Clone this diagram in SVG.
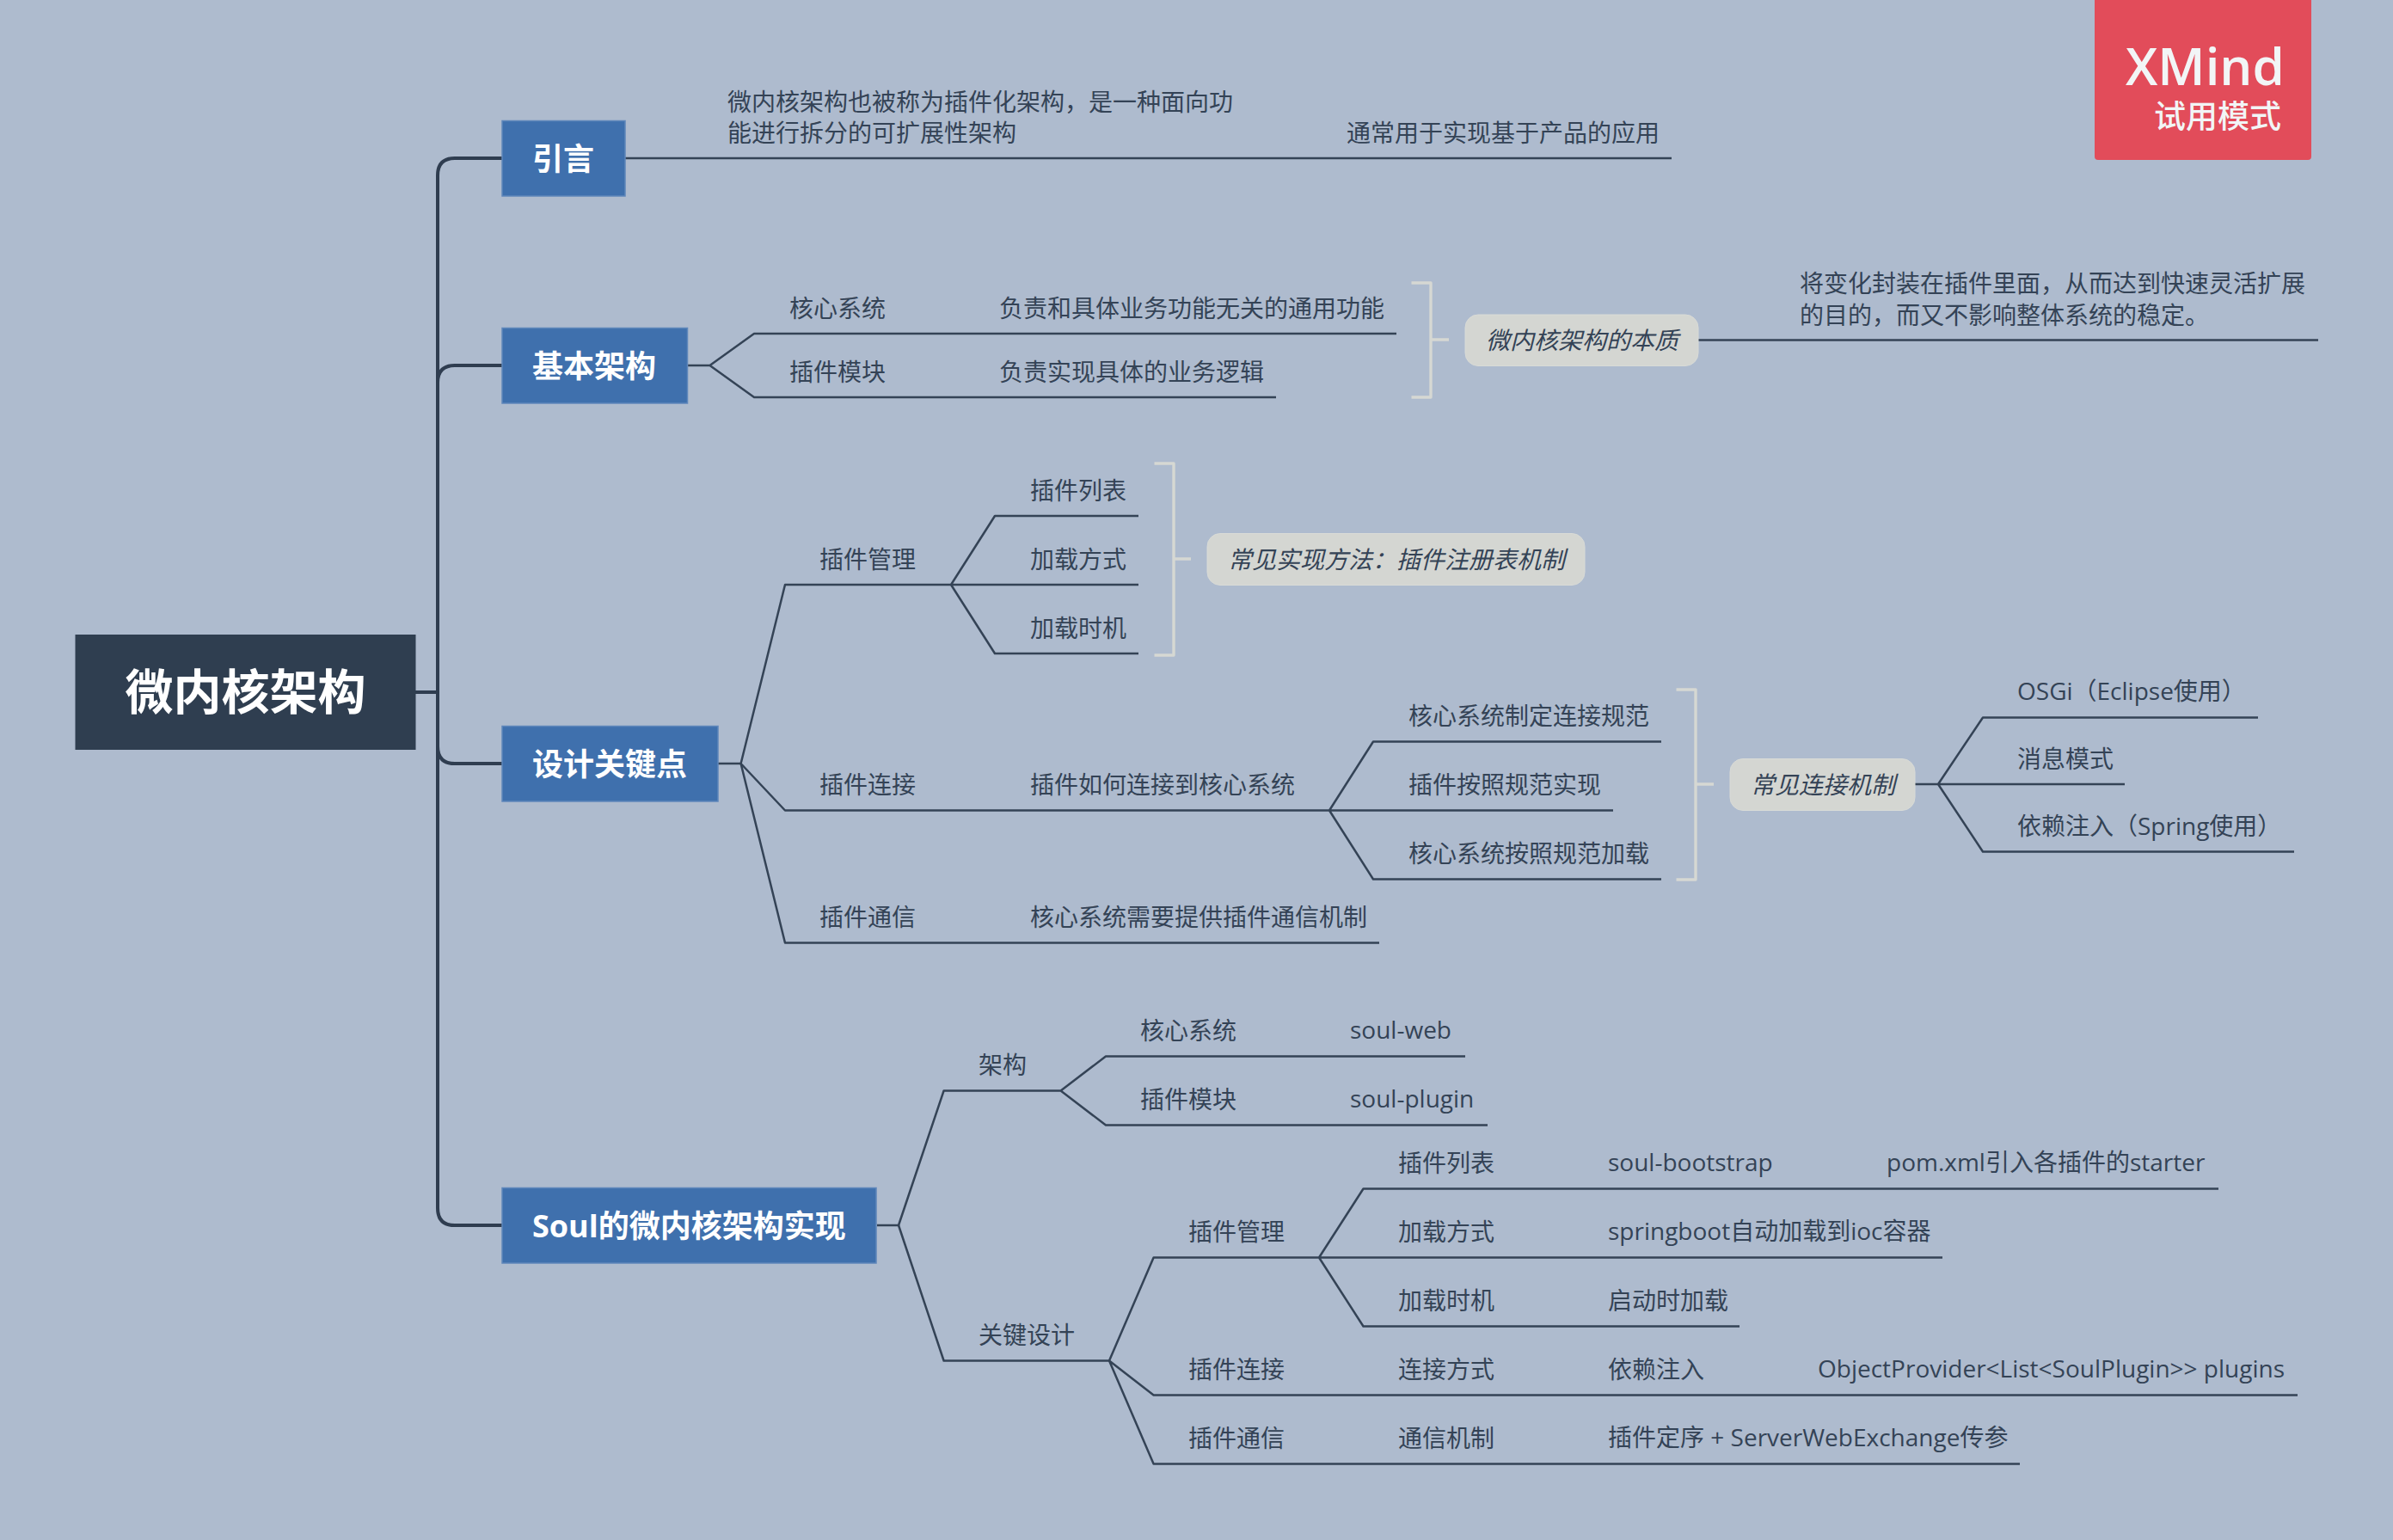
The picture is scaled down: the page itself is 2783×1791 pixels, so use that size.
<svg xmlns="http://www.w3.org/2000/svg" width="2783" height="1791" viewBox="0 0 2783 1791">
<style>
text{font-family:"Open Sans","Noto Sans CJK SC",sans-serif;font-size:28px;fill:#344356}
.it{font-style:italic}
.t{font-size:36px;font-weight:700;fill:#fff}
.r{font-size:56px;font-weight:700;fill:#fff}
.box{fill:#3f70ad;stroke:#5f87bb;stroke-width:1.5}
.sum{fill:#d4d6d2;stroke:#d9dbd7;stroke-width:1}
#connectors path{fill:none;stroke:#344356;stroke-width:2.5;stroke-linejoin:round}
#connectors .tr{stroke:#2f3d50;stroke-width:4}
#connectors .br{stroke:#d6d8d3;stroke-width:3.4}
</style>
<rect width="2783" height="1791" fill="#aebbce"/>
<g id="connectors">
<path class="tr" d="M483 805H509"/>
<path class="tr" d="M584 184H529Q509 184 509 204V1405Q509 1425 529 1425H584"/>
<path class="tr" d="M509 445Q509 425 529 425H584"/>
<path class="tr" d="M509 868Q509 888 529 888H584"/>
<path d="M727 184H1944"/>
<path d="M800 425H825.5L877 388H1624M825.5 425L877 462H1484"/>
<path d="M1975 395.500H2696"/>
<path d="M835 888H861.6L913 680H1324M1106 680L1157 600H1324M1106 680L1157 760H1324"/>
<path d="M861.6 888L913 942.500H1876M1546 942.500L1597 862.500H1932M1546 942.500L1597 1022.500H1932"/>
<path d="M861.6 888L913 1096.500H1604"/>
<path d="M2227 912H2471M2254 912L2306 834.500H2626M2254 912L2306 990.500H2668"/>
<path d="M1020 1425H1045L1097.6 1268.500H1233.6L1286 1228.5H1704M1233.6 1268.500L1286 1308.500H1730"/>
<path d="M1045 1425L1097.6 1582.5H1290L1341.6 1462.500H2259M1534 1462.500L1585.5 1382.500H2580M1534 1462.500L1585.5 1542.500H2023"/>
<path d="M1290 1582.5L1341.6 1622.5H2672M1290 1582.5L1341.6 1702.5H2349"/>
<path class="br" d="M1641.5 329H1664V462H1641.5M1664 395H1685"/>
<path class="br" d="M1342.5 539H1365V762H1342.5M1365 650H1385"/>
<path class="br" d="M1949.5 802H1972V1023H1949.5M1972 912H1993"/>
</g>
<g id="root"><rect x="87.500" y="738" width="396" height="134" fill="#2f3e50"/><text class="r" x="145.500" y="825">微内核架构</text></g>
<g id="t1"><rect class="box" x="584" y="140.500" width="143" height="87.500"/><text class="t" x="619" y="197.500">引言</text></g>
<g id="t2"><rect class="box" x="584" y="381.500" width="215.500" height="87.500"/><text class="t" x="619" y="438.500">基本架构</text></g>
<g id="t3"><rect class="box" x="584" y="844.500" width="251" height="87.500"/><text class="t" x="619" y="901.500">设计关键点</text></g>
<g id="t4"><rect class="box" x="584" y="1381.500" width="435" height="87.500"/><text class="t" x="619" y="1438.500">Soul的微内核架构实现</text></g>

<g id="n-intro"><text x="846" y="128.500">微内核架构也被称为插件化架构，是一种面向功</text><text x="846" y="165">能进行拆分的可扩展性架构</text></g>
<g id="n-intro2"><text x="1566" y="165">通常用于实现基于产品的应用</text></g>

<g id="n-core"><text x="918" y="369">核心系统</text></g>
<g id="n-core2"><text x="1162" y="369">负责和具体业务功能无关的通用功能</text></g>
<g id="n-plug"><text x="918" y="443">插件模块</text></g>
<g id="n-plug2"><text x="1162" y="443">负责实现具体的业务逻辑</text></g>
<g id="s1"><rect class="sum" x="1704" y="366" width="271" height="59.500" rx="15"/><text class="it" x="1728" y="406">微内核架构的本质</text></g>
<g id="n-essence"><text x="2093" y="340">将变化封装在插件里面，从而达到快速灵活扩展</text><text x="2093" y="376.500">的目的，而又不影响整体系统的稳定。</text></g>

<g id="n-mgmt"><text x="953" y="661">插件管理</text></g>
<g id="n-list"><text x="1198" y="581">插件列表</text></g>
<g id="n-load"><text x="1198" y="661">加载方式</text></g>
<g id="n-time"><text x="1198" y="741">加载时机</text></g>
<g id="s2"><rect class="sum" x="1404" y="620.500" width="439" height="60" rx="15"/><text class="it" x="1428" y="661">常见实现方法：插件注册表机制</text></g>

<g id="n-conn"><text x="953" y="923">插件连接</text></g>
<g id="n-conn2"><text x="1198" y="923">插件如何连接到核心系统</text></g>
<g id="n-c1"><text x="1638" y="843">核心系统制定连接规范</text></g>
<g id="n-c2"><text x="1638" y="923">插件按照规范实现</text></g>
<g id="n-c3"><text x="1638" y="1003">核心系统按照规范加载</text></g>
<g id="s3"><rect class="sum" x="2012" y="882.500" width="215" height="60" rx="15"/><text class="it" x="2036" y="923">常见连接机制</text></g>
<g id="n-osgi"><text x="2346" y="813.500">OSGi（Eclipse使用）</text></g>
<g id="n-msg"><text x="2346" y="892.500">消息模式</text></g>
<g id="n-di"><text x="2346" y="970.500">依赖注入（Spring使用）</text></g>

<g id="n-comm"><text x="953" y="1077">插件通信</text></g>
<g id="n-comm2"><text x="1198" y="1077">核心系统需要提供插件通信机制</text></g>

<g id="n-arch"><text x="1138" y="1248.500">架构</text></g>
<g id="n-a1"><text x="1326" y="1208.500">核心系统</text></g>
<g id="n-a1b"><text x="1570" y="1207.500">soul-web</text></g>
<g id="n-a2"><text x="1326" y="1288.500">插件模块</text></g>
<g id="n-a2b"><text x="1570" y="1287.500">soul-plugin</text></g>
<g id="n-key"><text x="1138" y="1562.500">关键设计</text></g>
<g id="n-k1"><text x="1382" y="1442.500">插件管理</text></g>
<g id="n-k11"><text x="1626" y="1362.500">插件列表</text></g>
<g id="n-k11b"><text x="1870" y="1361.500">soul-bootstrap</text></g>
<g id="n-k11c"><text x="2194" y="1361.500">pom.xml引入各插件的starter</text></g>
<g id="n-k12"><text x="1626" y="1442.500">加载方式</text></g>
<g id="n-k12b"><text x="1870" y="1441.500">springboot自动加载到ioc容器</text></g>
<g id="n-k13"><text x="1626" y="1522.500">加载时机</text></g>
<g id="n-k13b"><text x="1870" y="1522.500">启动时加载</text></g>
<g id="n-k2"><text x="1382" y="1602.500">插件连接</text></g>
<g id="n-k21"><text x="1626" y="1602.500">连接方式</text></g>
<g id="n-k21b"><text x="1870" y="1602.500">依赖注入</text></g>
<g id="n-k21c"><text x="2114" y="1601.500">ObjectProvider&lt;List&lt;SoulPlugin&gt;&gt; plugins</text></g>
<g id="n-k3"><text x="1382" y="1682.500">插件通信</text></g>
<g id="n-k31"><text x="1626" y="1682.500">通信机制</text></g>
<g id="n-k31b"><text x="1870" y="1681.500">插件定序 + ServerWebExchange传参</text></g>

<g id="xmind"><path d="M2436 0H2688V182Q2688 186 2684 186H2440Q2436 186 2436 182Z" fill="#e24c5a"/><text x="2472" y="98.500" style="font-size:60px;font-weight:600;fill:#f2f5f6">XMind</text><text x="2505" y="148.500" style="font-size:37px;font-weight:500;fill:#f2f5f6">试用模式</text></g>
</svg>
